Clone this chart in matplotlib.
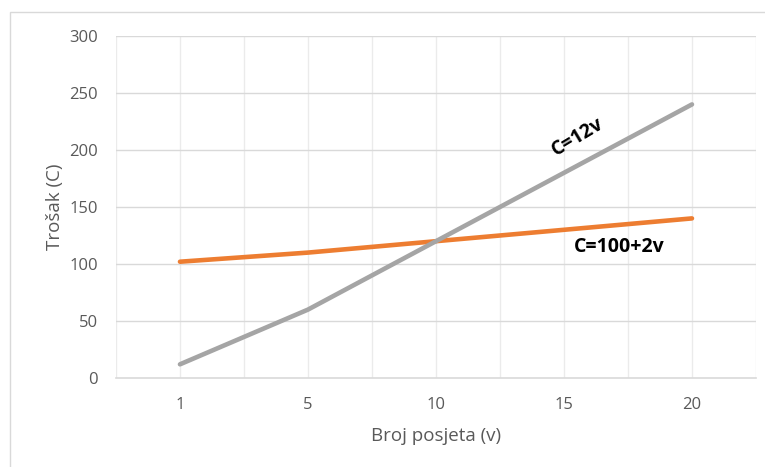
import numpy as np
import matplotlib
matplotlib.use('Agg')
import matplotlib.pyplot as plt
from matplotlib.patches import Rectangle

# podaci
posjete = ['1', '5', '10', '15', '20']
trosak_fiksni = [102, 110, 120, 130, 140]   # C=100+2v
trosak_var = [12, 60, 120, 180, 240]        # C=12v

plt.rcParams['font.family'] = ['Open Sans', 'DejaVu Sans']

fig = plt.figure(figsize=(7.65, 4.67), dpi=100)
ax = fig.add_axes([0.1516, 0.1906, 0.8366, 0.7323])

# okvir grafikona (vidljiv samo lijevo i gore)
fig.patches.append(Rectangle((10 / 765, -0.1), 1.2, 1.1 - 12 / 467,
                             transform=fig.transFigure, fill=False,
                             edgecolor='#D9D9D9', lw=1))

x = np.arange(len(posjete)) + 0.5
ax.plot(x, trosak_fiksni, color='#ED7D31', lw=3.3, solid_capstyle='round', zorder=3)
ax.plot(x, trosak_var, color='#A5A5A5', lw=3.3, solid_capstyle='round', zorder=3)

ax.set_xlim(0, len(posjete))
ax.set_ylim(0, 300)
ax.set_yticks(np.arange(0, 301, 50))
ax.set_xticks(x)
ax.set_xticklabels(posjete)

# mreža
for yv in np.arange(50, 301, 50):
    ax.axhline(yv, color='#D9D9D9', lw=1, zorder=1)
for xv in np.arange(0, len(posjete) + 0.01, 0.5):
    ax.axvline(xv, color='#EBEBEB', lw=1, zorder=0)

for s in ['top', 'right', 'left']:
    ax.spines[s].set_visible(False)
ax.spines['bottom'].set_color('#D9D9D9')
ax.spines['bottom'].set_linewidth(1.2)

ax.tick_params(length=0, labelsize=12, colors='#595959')
ax.tick_params(axis='y', pad=13)
ax.tick_params(axis='x', pad=14)

ax.set_xlabel('Broj posjeta (v)', fontsize=13.5, color='#595959', labelpad=10)
ax.set_ylabel('Trošak (C)', fontsize=13.5, color='#595959', labelpad=4)

ax.text(3.61, 211, 'C=12v', rotation=31, fontsize=14, fontweight='bold',
        ha='center', va='center', color='black', rotation_mode='anchor')
ax.text(3.93, 115, 'C=100+2v', fontsize=14, fontweight='bold',
        ha='center', va='center', color='black')

fig.savefig('out.png', dpi=100)
